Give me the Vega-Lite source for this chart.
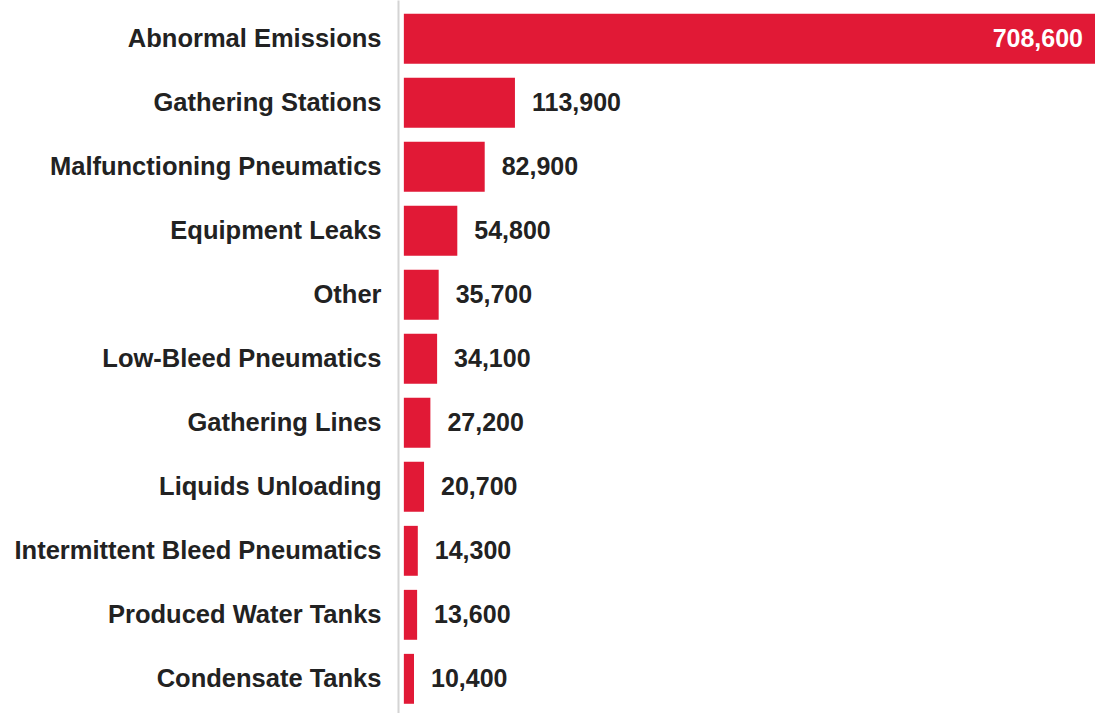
{
  "$schema": "https://vega.github.io/schema/vega-lite/v6.json",
  "width": 697,
  "height": 713,
  "padding": 0,
  "background": "#ffffff",
  "config": {"view": {"stroke": null}},
  "data": {"values": [
    {"source": "Abnormal Emissions", "value": 708600},
    {"source": "Gathering Stations", "value": 113900},
    {"source": "Malfunctioning Pneumatics", "value": 82900},
    {"source": "Equipment Leaks", "value": 54800},
    {"source": "Other", "value": 35700},
    {"source": "Low-Bleed Pneumatics", "value": 34100},
    {"source": "Gathering Lines", "value": 27200},
    {"source": "Liquids Unloading", "value": 20700},
    {"source": "Intermittent Bleed Pneumatics", "value": 14300},
    {"source": "Produced Water Tanks", "value": 13600},
    {"source": "Condensate Tanks", "value": 10400}
  ]},
  "encoding": {
    "y": {
      "field": "source", "type": "nominal", "sort": null,
      "scale": {"paddingInner": 0.22, "paddingOuter": 0.18, "align": 0.6},
      "axis": {
        "title": null, "ticks": false, "grid": false,
        "domainColor": "#d4d4d4", "domainWidth": 2,
        "labelFont": "Liberation Sans", "labelFontWeight": "bold", "labelFontSize": 25.5,
        "labelColor": "#222222", "labelPadding": 17, "labelLimit": 0,
        "minExtent": 398, "maxExtent": 398
      }
    },
    "x": {
      "field": "value", "type": "quantitative",
      "scale": {"domain": [-6000, 708600], "nice": false, "zero": false},
      "axis": null
    }
  },
  "layer": [
    {"mark": {"type": "bar", "color": "#E11936"}},
    {
      "transform": [{"filter": "datum.value < 500000"}],
      "mark": {"type": "text", "align": "left", "baseline": "middle", "dx": 17, "font": "Liberation Sans", "fontWeight": "bold", "fontSize": 25, "color": "#222222"},
      "encoding": {"text": {"field": "value", "type": "quantitative", "format": ",.0f"}}
    },
    {
      "transform": [{"filter": "datum.value >= 500000"}],
      "mark": {"type": "text", "align": "right", "baseline": "middle", "dx": -12, "font": "Liberation Sans", "fontWeight": "bold", "fontSize": 25, "color": "#ffffff"},
      "encoding": {"text": {"field": "value", "type": "quantitative", "format": ",.0f"}}
    }
  ]
}
